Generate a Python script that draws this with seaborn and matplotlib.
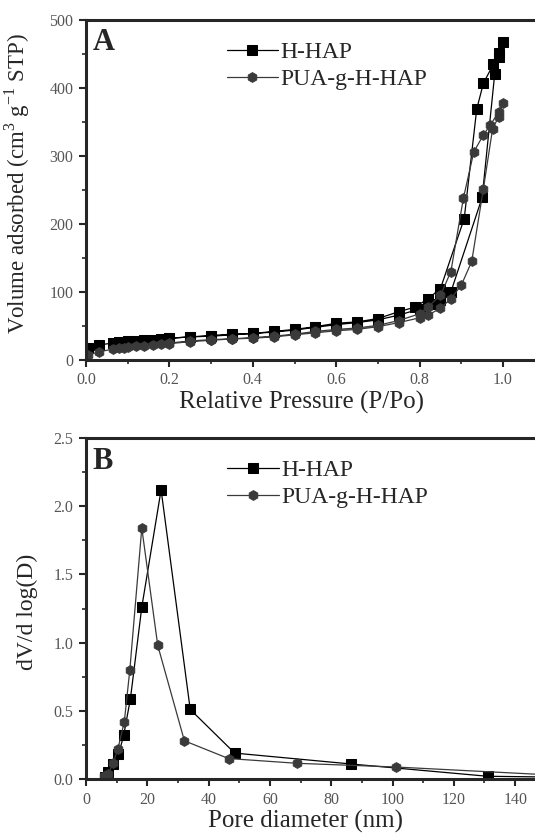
import numpy as np
import pandas as pd
import matplotlib
matplotlib.use('Agg')
import matplotlib.pyplot as plt
import seaborn as sns
from matplotlib.ticker import MultipleLocator

# Panel A: N2 isotherms (adsorption branch then desorption branch)
hhap_ads_p = [0.005, 0.03, 0.065, 0.08, 0.09, 0.10, 0.12, 0.14, 0.16, 0.18, 0.20,
              0.25, 0.30, 0.35, 0.40, 0.45, 0.50, 0.55, 0.60, 0.65, 0.70, 0.75,
              0.80, 0.83, 0.85, 0.875, 0.95, 0.98, 0.99, 1.0]
hhap_ads_v = [17, 22, 25, 26, 27, 27.5, 28, 29, 30, 31, 32,
              34, 36, 38, 39, 41, 44, 48, 52, 55, 59, 66,
              75, 82, 88, 100, 239, 420, 445, 468]
hhap_des_p = [0.99, 0.977, 0.953, 0.937, 0.907, 0.85, 0.82, 0.79, 0.75, 0.70,
              0.65, 0.60, 0.55, 0.50, 0.45, 0.40, 0.35, 0.30, 0.25, 0.20]
hhap_des_v = [452, 435, 407, 369, 208, 105, 90, 78, 71, 61,
              56, 54, 49, 45, 42, 39, 37, 35, 34, 32]

pua_ads_p = [0.005, 0.03, 0.065, 0.08, 0.09, 0.10, 0.12, 0.14, 0.16, 0.18, 0.20,
             0.25, 0.30, 0.35, 0.40, 0.45, 0.50, 0.55, 0.60, 0.65, 0.70, 0.75,
             0.80, 0.82, 0.85, 0.875, 0.90, 0.925, 0.953, 0.975, 0.99, 1.0]
pua_ads_v = [7, 12, 16, 17, 18, 19, 20, 21, 22, 23, 24,
             27, 29, 31, 32, 34, 37, 40, 43, 45, 49, 55,
             62, 66, 76, 90, 110, 145, 252, 340, 358, 378]
pua_des_p = [0.99, 0.969, 0.953, 0.93, 0.905, 0.875, 0.85, 0.82, 0.80, 0.75,
             0.70, 0.65, 0.60, 0.55, 0.50, 0.45, 0.40, 0.35, 0.30, 0.25, 0.20]
pua_des_v = [365, 345, 331, 306, 238, 130, 95, 78, 68, 58,
             51, 47, 45, 42, 38, 35, 33, 31, 30, 28, 25]

# Panel B: pore size distribution
hhap_d = [6.1, 7.3, 8.9, 10.6, 12.3, 14.5, 18.2, 24.5, 34.0, 48.5, 86.5, 131.0, 160.0]
hhap_dv = [0.017, 0.05, 0.11, 0.18, 0.32, 0.59, 1.26, 2.12, 0.51, 0.19, 0.11, 0.02, 0.012]
pua_d = [5.9, 7.3, 8.9, 10.4, 12.5, 14.3, 18.2, 23.4, 32.1, 46.5, 68.9, 101.0, 160.0]
pua_dv = [0.025, 0.04, 0.12, 0.22, 0.42, 0.80, 1.84, 0.98, 0.28, 0.15, 0.115, 0.088, 0.02]

sns.set_style("ticks")
plt.rcParams['font.family'] = ['Liberation Serif', 'DejaVu Serif']
plt.rcParams['mathtext.fontset'] = 'custom'
plt.rcParams['mathtext.rm'] = 'Liberation Serif'

W, H = 535, 835
fig = plt.figure(figsize=(W / 100, H / 100), dpi=100)

def px_axes(left, top, width, height):
    return fig.add_axes([left / W, (H - top - height) / H, width / W, height / H])

ax_a = px_axes(86, 20, 458.7, 340)
ax_b = px_axes(86, 438, 459.8, 341)

h_style = dict(color='black', marker='s', markersize=6.5, markeredgecolor='black',
               linewidth=0.9)
p_style = dict(color='#3a3a3a', marker='h', markersize=7, markeredgecolor='#3a3a3a',
               linewidth=0.9)

# isotherms drawn as one path: adsorption up, desorption back down
df_h = pd.DataFrame({'p': hhap_ads_p + hhap_des_p, 'v': hhap_ads_v + hhap_des_v})
df_p = pd.DataFrame({'p': pua_ads_p + pua_des_p, 'v': pua_ads_v + pua_des_v})
sns.lineplot(data=df_h, x='p', y='v', sort=False, estimator=None, ax=ax_a,
             label='H-HAP', **h_style)
sns.lineplot(data=df_p, x='p', y='v', sort=False, estimator=None, ax=ax_a,
             label='PUA-g-H-HAP', **p_style)

sns.lineplot(x=hhap_d, y=hhap_dv, sort=False, estimator=None, ax=ax_b,
             label='H-HAP', **h_style)
sns.lineplot(x=pua_d, y=pua_dv, sort=False, estimator=None, ax=ax_b,
             label='PUA-g-H-HAP', **p_style)

ax_a.set_xlim(0, 1.1)
ax_a.set_ylim(0, 500)
ax_a.xaxis.set_minor_locator(MultipleLocator(0.1))
ax_a.yaxis.set_major_locator(MultipleLocator(100))
ax_a.yaxis.set_minor_locator(MultipleLocator(50))
ax_a.set_xticks([0, 0.2, 0.4, 0.6, 0.8, 1.0])
ax_a.set_xticklabels(['0.0', '0.2', '0.4', '0.6', '0.8', '1.0'])

ax_b.set_xlim(0, 150)
ax_b.set_ylim(0, 2.5)
ax_b.xaxis.set_major_locator(MultipleLocator(20))
ax_b.xaxis.set_minor_locator(MultipleLocator(10))
ax_b.yaxis.set_major_locator(MultipleLocator(0.5))
ax_b.yaxis.set_minor_locator(MultipleLocator(0.25))
ax_b.yaxis.set_major_formatter(matplotlib.ticker.FormatStrFormatter('%.1f'))

ax_a.set_xlabel('Relative Pressure (P/Po)', fontsize=18)
ax_a.set_ylabel('Volume adsorbed (cm$^3$ g$^{-1}$ STP)', fontsize=16.5)
ax_b.set_xlabel('Pore diameter (nm)', fontsize=18)
ax_b.set_ylabel('dV/d log(D)', fontsize=17)
ax_a.xaxis.set_label_coords(0.47, -0.09)
ax_a.yaxis.set_label_coords(-0.118, 0.52)
ax_b.xaxis.set_label_coords(0.478, -0.09)
ax_b.yaxis.set_label_coords(-0.105, 0.49)

for ax, tag in [(ax_a, 'A'), (ax_b, 'B')]:
    for side in ['left', 'bottom', 'top']:
        ax.spines[side].set_linewidth(2.2)
        ax.spines[side].set_visible(True)
    ax.spines['right'].set_visible(False)
    ax.tick_params(which='major', direction='out', length=5, width=1.5,
                   labelsize=11.5, labelcolor='#555555', pad=4,
                   top=False, right=False)
    ax.tick_params(which='minor', direction='out', length=3, width=1.2,
                   top=False, right=False)
    ax.text(0.015, 0.975, tag, transform=ax.transAxes, fontsize=22,
            fontweight='bold', va='top', ha='left')
    ax.legend(loc='upper left', bbox_to_anchor=(0.26, 1.0), frameon=False,
              fontsize=17, handlelength=2.2, handletextpad=0.1,
              labelspacing=0.25, borderaxespad=0.5)

plt.savefig('out.png', dpi=100)
plt.close()
